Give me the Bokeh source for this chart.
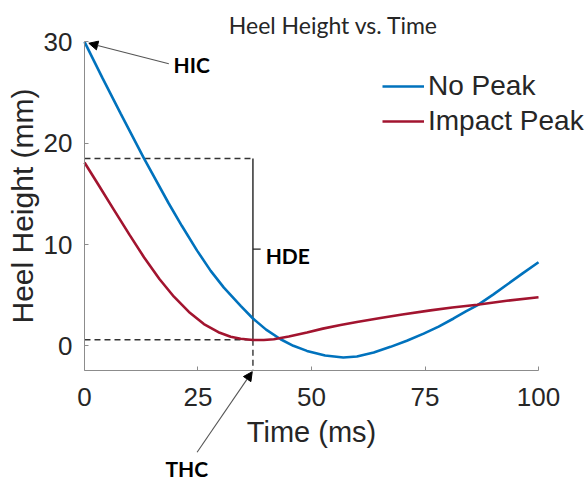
from bokeh.plotting import figure
from bokeh.models import (Range1d, FixedTicker, Label, Arrow, NormalHead,
                          Legend, LegendItem)
from bokeh.embed import file_html
from bokeh.resources import INLINE

# ---------------- data ----------------
no_peak_t = [0, 4, 8, 13.1, 18.5, 21.5, 24.8, 27.8, 30.7, 34.4, 37.1, 40, 43.2,
             46, 49, 53, 57, 60, 63.7, 67.4, 71, 74.7, 78, 81.3, 84, 86.5, 90,
             93.1, 96.5, 100]
no_peak_h = [30, 26.4, 22.9, 18.5, 14.1, 11.8, 9.4, 7.4, 5.75, 3.95, 2.7, 1.6,
             0.65, 0.0, -0.5, -0.95, -1.15, -1.05, -0.65, -0.1, 0.5, 1.2, 1.9,
             2.7, 3.4, 4.0, 5.05, 6.05, 7.15, 8.25]

impact_t = [0, 3.2, 6.45, 10, 13.1, 16.5, 19.7, 23, 26.3, 29.5, 32.2, 34.4,
            37.1, 39.5, 41.7, 45, 49, 52.5, 56.4, 60, 65.2, 70, 76.2, 81, 86.5,
            93, 100]
impact_h = [18.1, 15.8, 13.45, 10.9, 8.75, 6.6, 4.85, 3.35, 2.15, 1.35, 0.9,
            0.7, 0.58, 0.57, 0.65, 0.92, 1.32, 1.7, 2.05, 2.35, 2.75, 3.1, 3.5,
            3.78, 4.05, 4.45, 4.8]

series_names = ["No Peak", "Impact Peak"]
x_ticks = [0, 25, 50, 75, 100]
y_ticks = [0, 10, 20, 30]
x_bounds = (0, 100)
y_bounds = (-2.45, 30)

# annotation values
thc_time = 37.1      # time of heel contact
hde_top = 18.5       # top of heel drop
hde_bottom = 0.6     # bottom of heel drop
hic_point = (0.95, 29.87)

BLUE = "#0072BD"
RED = "#A2142F"
TXT = "#262626"
AX = "#8c8c8c"

# the frame covers the whole canvas so that annotations outside the axes
# (title, legend, THC) are not clipped; axes are pinned with fixed_location
p = figure(width=587, height=483, output_backend="svg", toolbar_location=None,
           x_range=Range1d(-18.50, 110.79), y_range=Range1d(-13.59, 34.09),
           min_border=0, min_border_left=0, min_border_right=0,
           min_border_top=0, min_border_bottom=0)
p.outline_line_color = None
p.grid.visible = False
p.background_fill_color = "white"
p.border_fill_color = "white"

for ax in (p.xaxis[0], p.yaxis[0]):
    ax.axis_line_color = AX
    ax.axis_line_width = 1
    ax.major_tick_line_color = AX
    ax.major_tick_in = 4
    ax.major_tick_out = 0
    ax.minor_tick_line_color = None
    ax.major_label_text_font = "Liberation Sans"
    ax.major_label_text_font_size = "26px"
    ax.major_label_text_color = TXT
    ax.axis_label_text_font = "Liberation Sans"
    ax.axis_label_text_font_style = "normal"
    ax.axis_label_text_color = TXT

p.xaxis.axis_label_text_font_size = "29px"
p.yaxis.axis_label_text_font_size = "30px"
p.xaxis.fixed_location = y_bounds[0]
p.yaxis.fixed_location = x_bounds[0]
p.xaxis.bounds = x_bounds
p.yaxis.bounds = y_bounds
p.xaxis.ticker = FixedTicker(ticks=x_ticks)
p.yaxis.ticker = FixedTicker(ticks=y_ticks)
p.xaxis.axis_label = "Time (ms)"
p.yaxis.axis_label = "Heel Height (mm)"
p.xaxis.major_label_standoff = 17
p.yaxis.major_label_standoff = 12
p.xaxis.axis_label_standoff = 7
p.yaxis.axis_label_standoff = 2

# dashed guide lines
DASH = "#333333"
p.line([0, thc_time], [hde_top, hde_top], line_color=DASH, line_width=1.4,
       line_dash="6 4")
p.line([0, thc_time], [hde_bottom, hde_bottom], line_color=DASH,
       line_width=1.4, line_dash="6 4")
p.line([thc_time, thc_time], [hde_bottom, y_bounds[0]], line_color=DASH,
       line_width=1.4, line_dash="6 4")
# solid heel drop line and its small tick
p.line([thc_time, thc_time], [hde_top, hde_bottom], line_color="#222222",
       line_width=1.4)
p.line([thc_time, thc_time + 1.7], [(hde_top + hde_bottom) / 2] * 2,
       line_color="#222222", line_width=1.4)

r1 = p.line(no_peak_t, no_peak_h, line_color=BLUE, line_width=2.6)
r2 = p.line(impact_t, impact_h, line_color=RED, line_width=2.6)

legend = Legend(items=[LegendItem(label=series_names[0], renderers=[r1]),
                       LegendItem(label=series_names[1], renderers=[r2])],
                location=(382, 346), glyph_width=42, glyph_height=20,
                label_standoff=4, spacing=3, padding=0, margin=0,
                border_line_color=None, background_fill_alpha=0,
                label_text_font="Liberation Sans",
                label_text_font_size="28px", label_text_color=TXT)
p.add_layout(legend)

# title
p.add_layout(Label(x=54.85, y=31.65, text="Heel Height vs. Time",
                   text_font="Lato", text_font_size="23px",
                   text_color=TXT, text_align="center",
                   text_baseline="alphabetic"))

# annotations
p.add_layout(Arrow(end=NormalHead(size=9, fill_color="black", line_color="black"),
                   x_start=18.57, y_start=27.84,
                   x_end=hic_point[0], y_end=hic_point[1],
                   line_color="#555555", line_width=1.1))
p.add_layout(Label(x=19.6, y=27.77, text="HIC", text_font="Lato",
                   text_font_style="bold", text_font_size="21px",
                   text_color="black", text_baseline="alphabetic"))
p.add_layout(Label(x=39.9, y=8.92, text="HDE", text_font="Lato",
                   text_font_style="bold", text_font_size="21px",
                   text_color="black", text_baseline="alphabetic"))
p.add_layout(Arrow(end=NormalHead(size=9, fill_color="black", line_color="black"),
                   x_start=24.8, y_start=-10.5,
                   x_end=thc_time - 0.15, y_end=-2.55,
                   line_color="#555555", line_width=1.1))
p.add_layout(Label(x=17.84, y=-12.1, text="THC", text_font="Lato",
                   text_font_style="bold", text_font_size="21px",
                   text_color="black", text_baseline="alphabetic"))

open("out.html", "w").write(file_html(p, INLINE))
